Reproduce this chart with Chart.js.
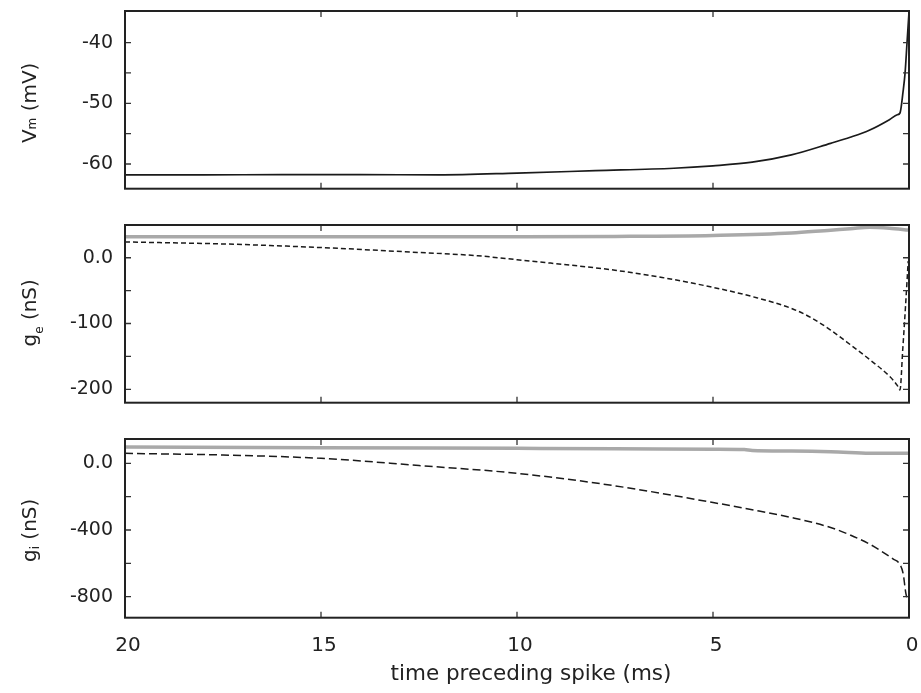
<!DOCTYPE html>
<html><head><meta charset="utf-8">
<script src="https://cdn.jsdelivr.net/npm/chart.js@4/dist/chart.umd.min.js"></script>
<style>
html,body{margin:0;padding:0;background:#fff;}
#wrap{position:relative;width:921px;height:693px;background:#fff;}
canvas{position:absolute;left:0;top:0;}
</style></head><body>
<div id="wrap">
<canvas id="c1" width="921" height="693"></canvas>
<canvas id="c2" width="921" height="693"></canvas>
<canvas id="c3" width="921" height="693"></canvas>
</div>
<script>
// ---------- data ----------
const xTickValues = [20, 15, 10, 5, 0];
const xTitle = 'time preceding spike (ms)';

// panel 1: membrane potential
const vmTime   = [20, 18, 16, 14, 12, 10, 8, 6, 5, 4, 3, 2, 1.5, 1, 0.5, 0.3, 0.23, 0.15, 0.1, 0.05, 0];
const vmValues = [-61.8, -61.8, -61.75, -61.75, -61.8, -61.5, -61.1, -60.7, -60.3, -59.7, -58.5, -56.6, -55.6, -54.4, -52.7, -51.9, -51.6, -48, -45, -40, -35];
const vmTickValues = [-60, -55, -50, -45, -40];
const vmTickLabels = ['-60', '', '-50', '', '-40'];

// panel 2: excitatory conductance
const geSolidTime   = [20, 15, 10, 7.5, 5, 3, 2, 1.5, 1, 0.5, 0];
const geSolidValues = [32, 32, 32, 32.5, 34, 37.5, 42, 44, 46.5, 45, 42];
const geDashTime    = [20, 17.5, 15, 12.5, 11, 10, 7.5, 6.3, 5, 4, 3, 2.5, 2, 1.5, 1, 0.5, 0.3, 0.23, 0.16, 0.09, 0.02];
const geDashValues  = [24, 21, 15.5, 8, 3, -3, -19, -30, -45, -59, -77, -91, -110, -132, -155, -180, -194, -201, -140, -75, -5];
const geTickValues = [-200, -150, -100, -50, 0];
const geTickLabels = ['-200', '', '-100', '', '0.0'];

// panel 3: inhibitory conductance
const giSolidTime   = [20, 15, 10, 7.5, 5, 4.2, 4.0, 3, 2, 1, 0.5, 0];
const giSolidValues = [98, 93, 90, 88, 85, 83, 77, 74, 70, 61, 60, 60];
const giDashTime    = [20, 17.5, 15, 12.5, 10, 7.5, 5, 4, 3, 2, 1.5, 1, 0.65, 0.4, 0.25, 0.15, 0.08, 0.02];
const giDashValues  = [60, 50, 30, -13, -60, -135, -235, -278, -325, -385, -430, -485, -535, -575, -600, -660, -780, -825];
const giTickValues = [-800, -600, -400, -200, 0];
const giTickLabels = ['-800', '', '-400', '', '0.0'];

const yTitleMain = ['V', 'g', 'g'];
const yTitleSub  = ['m', 'e', 'i'];
const yTitleUnit = [' (mV)', ' (nS)', ' (nS)'];

// ---------- drawing ----------
const FONT = "'DejaVu Sans', sans-serif";
const pts = (xs, ys) => xs.map((t, i) => ({x: t, y: ys[i]}));

const framePlugin = {
  id: 'frameTicks',
  afterDatasetsDraw(chart, args, opts) {
    const {ctx, chartArea: a, scales: {x, y}} = chart;
    ctx.save();
    ctx.strokeStyle = '#333';
    ctx.lineWidth = 1.3;
    ctx.beginPath();
    for (const v of opts.yTicks) {
      const py = y.getPixelForValue(v);
      ctx.moveTo(a.left, py); ctx.lineTo(a.left + 6, py);
      ctx.moveTo(a.right, py); ctx.lineTo(a.right - 6, py);
    }
    for (const v of opts.xTicks) {
      const px = x.getPixelForValue(v);
      ctx.moveTo(px, a.top); ctx.lineTo(px, a.top + 6);
      ctx.moveTo(px, a.bottom); ctx.lineTo(px, a.bottom - 6);
    }
    ctx.stroke();
    ctx.lineWidth = 2;
    ctx.strokeStyle = '#222';
    ctx.strokeRect(a.left, a.top, a.right - a.left, a.bottom - a.top);

    ctx.fillStyle = '#222';
    // x-axis title (bottom panel only)
    if (opts.xTitle) {
      ctx.font = '21.5px ' + FONT;
      ctx.textAlign = 'center';
      ctx.textBaseline = 'middle';
      ctx.fillText(xTitle, (a.left + a.right) / 2 + 14, 674);
    }

    // y-axis title with subscript
    const i = opts.titleIndex;
    const cy = (a.top + a.bottom) / 2 + opts.titleShift;
    ctx.translate(36, cy);
    ctx.rotate(-Math.PI / 2);
    ctx.textBaseline = 'alphabetic';
    ctx.textAlign = 'left';
    const big = '20px ' + FONT, small = '12px ' + FONT;
    ctx.font = big; const w1 = ctx.measureText(yTitleMain[i]).width;
    const w3 = ctx.measureText(yTitleUnit[i]).width;
    ctx.font = small; const w2 = ctx.measureText(yTitleSub[i]).width;
    let sx = -(w1 + w2 + w3) / 2;
    ctx.font = big; ctx.fillText(yTitleMain[i], sx, 0); sx += w1;
    ctx.font = small; ctx.fillText(yTitleSub[i], sx, opts.subDrop); sx += w2;
    ctx.font = big; ctx.fillText(yTitleUnit[i], sx, 0);
    ctx.restore();
  }
};

function makePanel(id, p) {
  const showX = !!p.showX;
  return new Chart(document.getElementById(id), {
    type: 'line',
    data: {datasets: p.datasets},
    options: {
      responsive: false,
      animation: false,
      events: [],
      layout: {padding: {left: 0, right: 12, top: p.top, bottom: showX ? 0 : 693 - p.bottom}},
      elements: {point: {radius: 0}, line: {cubicInterpolationMode: 'monotone', borderCapStyle: 'butt'}},
      plugins: {
        legend: {display: false},
        tooltip: {enabled: false},
        frameTicks: {yTicks: p.yTicks, xTicks: xTickValues, titleIndex: p.titleIndex, titleShift: p.titleShift,
                     subDrop: p.subDrop, xTitle: showX}
      },
      scales: {
        x: {
          type: 'linear', min: 0, max: 20, reverse: true,
          display: showX,
          grid: {display: false, drawTicks: false},
          border: {display: false},
          afterBuildTicks: s => { s.ticks = xTickValues.map(v => ({value: v})); },
          ticks: {font: {family: FONT, size: 20}, color: '#222', padding: 16, maxRotation: 0, autoSkip: false,
                  labelOffset: 3, callback: v => String(v)},
          afterFit: s => { if (showX) s.height = 693 - p.bottom; s.paddingLeft = 0; s.paddingRight = 0; }
        },
        y: {
          type: 'linear', min: p.yMin, max: p.yMax, position: 'left',
          grid: {display: false, drawTicks: false},
          border: {display: false},
          afterBuildTicks: s => { s.ticks = p.yTicks.map(v => ({value: v})); },
          ticks: {font: {family: FONT, size: 19}, color: '#222', padding: 12, autoSkip: false,
                  callback: (v, idx) => p.yLabels[idx]},
          afterFit: s => { s.width = 125; s.paddingTop = 0; s.paddingBottom = 0; }
        }
      }
    },
    plugins: [framePlugin]
  });
}

makePanel('c1', {
  top: 11, bottom: 188.7, yMin: -64.07, yMax: -34.8,
  yTicks: vmTickValues, yLabels: vmTickLabels, titleIndex: 0, titleShift: 3, subDrop: 0,
  datasets: [{data: pts(vmTime, vmValues), borderColor: '#1a1a1a', borderWidth: 1.7}]
});
makePanel('c2', {
  top: 225, bottom: 402.7, yMin: -220.4, yMax: 49.8,
  yTicks: geTickValues, yLabels: geTickLabels, titleIndex: 1, titleShift: -1, subDrop: 7,
  datasets: [
    {data: pts(geSolidTime, geSolidValues), borderColor: '#a9a9a9', borderWidth: 3.5},
    {data: pts(geDashTime, geDashValues), borderColor: '#1a1a1a', borderWidth: 1.5, borderDash: [5, 3]}
  ]
});
makePanel('c3', {
  top: 439, bottom: 617.7, yMin: -926, yMax: 146, showX: true,
  yTicks: giTickValues, yLabels: giTickLabels, titleIndex: 2, titleShift: 2, subDrop: 3,
  datasets: [
    {data: pts(giSolidTime, giSolidValues), borderColor: '#a9a9a9', borderWidth: 3.5},
    {data: pts(giDashTime, giDashValues), borderColor: '#1a1a1a', borderWidth: 1.5, borderDash: [8, 4]}
  ]
});
</script>
</body></html>
